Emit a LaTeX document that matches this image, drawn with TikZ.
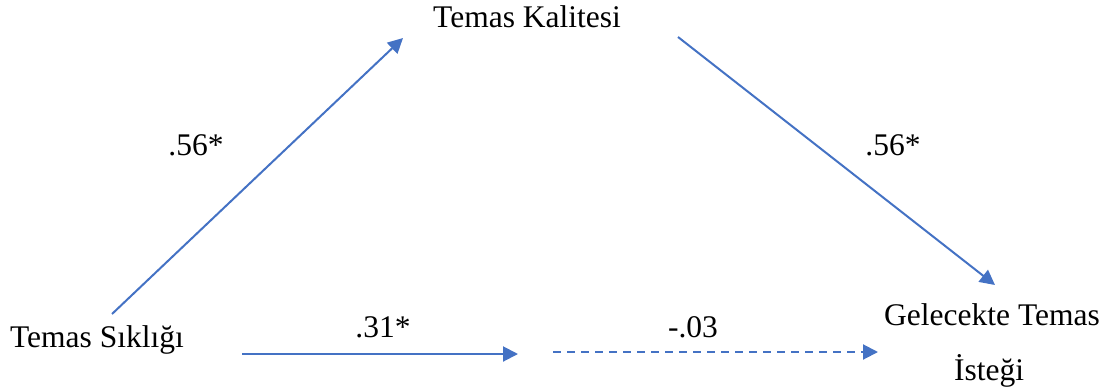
\documentclass[tikz,border=0pt]{standalone}
\usepackage{fontspec}
\setmainfont{Liberation Serif}
\usetikzlibrary{arrows.meta}
\definecolor{arrowblue}{HTML}{4472C4}
\begin{document}
\begin{tikzpicture}[x=1pt,y=-1pt,
  lbl/.style={font=\fontsize{31.5}{55}\selectfont, inner sep=0pt, anchor=base},
  conn/.style={draw=arrowblue, line width=2pt, -{Triangle[length=15pt,width=15pt]}},
  dashconn/.style={conn, dash pattern=on 8pt off 6pt}]
\useasboundingbox (0,0) rectangle (1113,391);
\node[lbl] (kal) at (527,27) {Temas Kalitesi};
\node[lbl] (sik) at (97,347) {Temas Sıklığı};
\node[lbl] (gel) at (992,325) {Gelecekte Temas};
\node[lbl] (ist) at (989,380) {İsteği};
\node[lbl] (l1) at (196,155) {.56*};
\node[lbl] (l2) at (893,155) {.56*};
\node[lbl] (l3) at (383,337) {.31*};
\node[lbl] (l4) at (693,337) {-.03};
\coordinate (a1s) at (112,314);
\coordinate (a1e) at (403,38);
\coordinate (a2s) at (678,37);
\coordinate (a2e) at (995,285);
\coordinate (a3s) at (242,354);
\coordinate (a3e) at (518,354);
\coordinate (a4s) at (553,352);
\coordinate (a4e) at (878,352);
\draw[conn] (a1s) -- (a1e);
\draw[conn] (a2s) -- (a2e);
\draw[conn] (a3s) -- (a3e);
\draw[dashconn] (a4s) -- (a4e);
\end{tikzpicture}
\end{document}
